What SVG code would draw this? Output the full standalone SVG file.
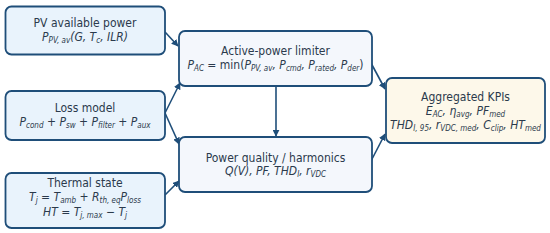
<svg xmlns="http://www.w3.org/2000/svg" width="550" height="233" viewBox="0 0 550 233">
<defs>
<marker id="ah" viewBox="0 0 10 10" refX="9" refY="5" markerWidth="7" markerHeight="7" markerUnits="userSpaceOnUse" orient="auto">
<path d="M0,0 L10,5 L0,10 z" fill="#1f4e79"/>
</marker>
<style>
.box{stroke:#1f4e79;stroke-width:1.8}
.in{fill:#e9f3fc}
.mid{fill:#f4f7fc}
.out{fill:#fdf8ea}
text{font-family:"DejaVu Sans Condensed","DejaVu Sans",sans-serif;font-size:12px;fill:#2b3a4c;text-anchor:middle}
.m{font-style:italic}
.u{font-style:normal}
.s{font-size:8px}
.conn{stroke:#1f4e79;stroke-width:1.6;fill:none;marker-end:url(#ah)}
</style>
</defs>
<g id="connectors">
<line class="conn" x1="165" y1="32" x2="178" y2="46"/>
<line class="conn" x1="165" y1="113" x2="180" y2="83"/>
<line class="conn" x1="165" y1="113" x2="179" y2="144"/>
<line class="conn" x1="165" y1="195" x2="179" y2="181"/>
<line class="conn" x1="276" y1="86" x2="276" y2="136"/>
<line class="conn" x1="371" y1="63" x2="385" y2="89"/>
<line class="conn" x1="371" y1="161" x2="385" y2="134"/>
</g>
<g id="pv">
<rect class="box in" x="5.5" y="6.5" width="159.5" height="48" rx="6"/>
<text x="85" y="27">PV available power</text>
<text x="85" y="40.5" class="m">P<tspan class="s" baseline-shift="-2">PV, av</tspan>(G, T<tspan class="s" baseline-shift="-2">c</tspan>, ILR)</text>
</g>
<g id="loss">
<rect class="box in" x="5.5" y="91" width="159.5" height="49" rx="6"/>
<text x="85" y="112">Loss model</text>
<text x="85" y="125.5" class="m">P<tspan class="s" baseline-shift="-2">cond</tspan><tspan class="u"> + </tspan>P<tspan class="s" baseline-shift="-2">sw</tspan><tspan class="u"> + </tspan>P<tspan class="s" baseline-shift="-2">filter</tspan><tspan class="u"> + </tspan>P<tspan class="s" baseline-shift="-2">aux</tspan></text>
</g>
<g id="thermal">
<rect class="box in" x="5.5" y="173" width="159.5" height="55" rx="6"/>
<text x="85" y="187">Thermal state</text>
<text x="85" y="201" class="m">T<tspan class="s" baseline-shift="-2">j</tspan><tspan class="u"> = </tspan>T<tspan class="s" baseline-shift="-2">amb</tspan><tspan class="u"> + </tspan>R<tspan class="s" baseline-shift="-2">th, eq</tspan>P<tspan class="s" baseline-shift="-2">loss</tspan></text>
<text x="85" y="216" class="m">HT<tspan class="u"> = </tspan>T<tspan class="s" baseline-shift="-2">j, max</tspan><tspan class="u"> − </tspan>T<tspan class="s" baseline-shift="-2">j</tspan></text>
</g>
<g id="limiter">
<rect class="box mid" x="179" y="31" width="193" height="55" rx="6"/>
<text x="275.5" y="55">Active-power limiter</text>
<text x="275.5" y="69" class="m">P<tspan class="s" baseline-shift="-2">AC</tspan><tspan class="u"> = min(</tspan>P<tspan class="s" baseline-shift="-2">PV, av</tspan>, P<tspan class="s" baseline-shift="-2">cmd</tspan>, P<tspan class="s" baseline-shift="-2">rated</tspan>, P<tspan class="s" baseline-shift="-2">der</tspan><tspan class="u">)</tspan></text>
</g>
<g id="quality">
<rect class="box mid" x="179" y="137" width="193" height="55" rx="6"/>
<text x="275.5" y="161.5">Power quality / harmonics</text>
<text x="275.5" y="175" class="m">Q(V), PF, THD<tspan class="s" baseline-shift="-2">I</tspan>, r<tspan class="s" baseline-shift="-2">VDC</tspan></text>
</g>
<g id="kpis">
<rect class="box out" x="386" y="78" width="159" height="65" rx="6"/>
<text x="465.5" y="101">Aggregated KPIs</text>
<text x="465.5" y="114.5" class="m">E<tspan class="s" baseline-shift="-2">AC</tspan>, η<tspan class="s" baseline-shift="-2">avg</tspan>, PF<tspan class="s" baseline-shift="-2">med</tspan></text>
<text x="465.5" y="129" class="m">THD<tspan class="s" baseline-shift="-2">I, 95</tspan>, r<tspan class="s" baseline-shift="-2">VDC, med</tspan>, C<tspan class="s" baseline-shift="-2">clip</tspan>, HT<tspan class="s" baseline-shift="-2">med</tspan></text>
</g>
</svg>
